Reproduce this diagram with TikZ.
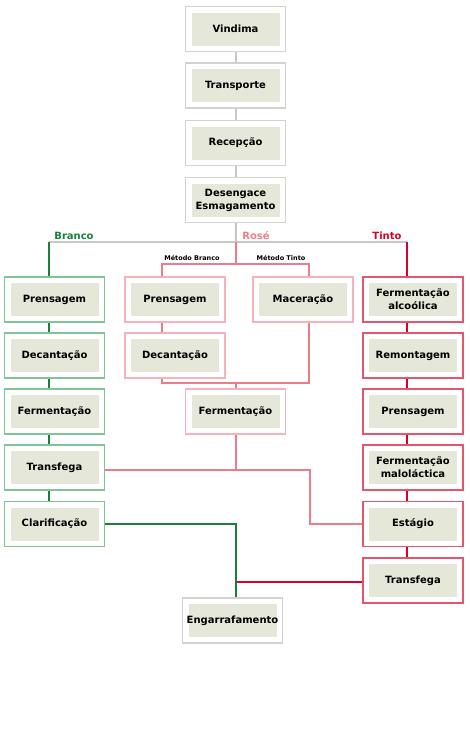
\documentclass[tikz,border=0pt]{standalone}
\usepackage{fontspec}
\setmainfont{DejaVu Sans}
\usetikzlibrary{calc}
\definecolor{boxfill}{HTML}{E5E8D8}
\definecolor{greyline}{HTML}{C8C8C8}
\definecolor{greyframe}{HTML}{D2D2D2}
\definecolor{brancoline}{HTML}{1B7F3A}
\definecolor{brancoframe}{HTML}{80C396}
\definecolor{roseline}{HTML}{EC7C8C}
\definecolor{roseframe}{HTML}{F5B3BD}
\definecolor{tintoline}{HTML}{D9002B}
\definecolor{tintoframe}{HTML}{E4566E}

\begin{document}
\begin{tikzpicture}[x=1pt,y=-1pt,
  etapa/.style={draw=#1,line width=1.2pt,fill=white,minimum width=100pt,minimum height=45pt,
    inner sep=0pt,align=center,font=\bfseries\fontsize{10}{13}\selectfont,
    path picture={\fill[boxfill] ($(path picture bounding box.south west)+(6pt,6pt)$)
      rectangle ($(path picture bounding box.north east)+(-6pt,-6pt)$);}},
  ligacao/.style={draw=#1,line width=2pt},
  ramo/.style={font=\bfseries\fontsize{10}{12}\selectfont,inner sep=0pt},
  metodo/.style={font=\bfseries\fontsize{6.5}{8}\selectfont,inner sep=0pt}]
\useasboundingbox (0,0) rectangle (470,737);

% tronco comum
\node[etapa=greyframe] (vindima) at (235.5,29) {Vindima};
\node[etapa=greyframe] (transporte) at (235.5,85.5) {Transporte};
\node[etapa=greyframe] (recepcao) at (235.5,143) {Recepção};
\node[etapa=greyframe] (desengace) at (235.5,200) {Desengace\\Esmagamento};

% branco
\node[etapa=brancoframe] (bPrensagem) at (54.5,299.5) {Prensagem};
\node[etapa=brancoframe] (bDecantacao) at (54.5,355.5) {Decantação};
\node[etapa=brancoframe] (bFermentacao) at (54.5,411.5) {Fermentação};
\node[etapa=brancoframe] (bTransfega) at (54.5,467.5) {Transfega};
\node[etapa=brancoframe] (bClarificacao) at (54.5,524) {Clarificação};

% rose
\node[etapa=roseframe] (rPrensagem) at (175,299.5) {Prensagem};
\node[etapa=roseframe] (rMaceracao) at (303,299.5) {Maceração};
\node[etapa=roseframe] (rDecantacao) at (175,355.5) {Decantação};
\node[etapa=roseframe] (rFermentacao) at (235.5,411.5) {Fermentação};

% tinto
\node[etapa=tintoframe] (tFermentacao) at (413,299.5) {Fermentação\\alcoólica};
\node[etapa=tintoframe] (tRemontagem) at (413,355.5) {Remontagem};
\node[etapa=tintoframe] (tPrensagem) at (413,411.5) {Prensagem};
\node[etapa=tintoframe] (tMalolactica) at (413,467.5) {Fermentação\\maloláctica};
\node[etapa=tintoframe] (tEstagio) at (413,524) {Estágio};
\node[etapa=tintoframe] (tTransfega) at (413,580.5) {Transfega};

\node[etapa=greyframe] (engarrafamento) at (232.5,620.5) {Engarrafamento};

\coordinate (split) at (236,242);
\coordinate (brancoTop) at (49,242);
\coordinate (tintoTop) at (407,242);
\coordinate (metodo) at (236,264);
\coordinate (mBranco) at (162,264);
\coordinate (mTinto) at (309,264);
\coordinate (rJunta) at (236,383);
\coordinate (rVolta) at (310,470);
\coordinate (eJunta) at (236,582);

\node[ramo,text=brancoline] (lBranco) at (74,236) {Branco};
\node[ramo,text=roseline] (lRose) at (256,236) {Rosé};
\node[ramo,text=tintoline] (lTinto) at (387,236) {Tinto};
\node[metodo] (lMBranco) at (192,258) {Método Branco};
\node[metodo] (lMTinto) at (281,258) {Método Tinto};

% ligacoes
\foreach \a/\b in {vindima/transporte,transporte/recepcao,recepcao/desengace}
	\draw[ligacao=greyline] (\a) -- (\b);
\draw[ligacao=greyline] (desengace) -- (split);
\draw[ligacao=greyline] (brancoTop) -- (tintoTop);

\draw[ligacao=brancoline] (brancoTop) -- (brancoTop |- bPrensagem.north);
\foreach \a/\b in {bPrensagem/bDecantacao,bDecantacao/bFermentacao,bFermentacao/bTransfega,bTransfega/bClarificacao}
	\draw[ligacao=brancoline] (\a.south -| brancoTop) -- (\b.north -| brancoTop);

\draw[ligacao=tintoline] (tintoTop) -- (tintoTop |- tFermentacao.north);
\foreach \a/\b in {tFermentacao/tRemontagem,tRemontagem/tPrensagem,tPrensagem/tMalolactica,tMalolactica/tEstagio,tEstagio/tTransfega}
	\draw[ligacao=tintoline] (\a.south -| tintoTop) -- (\b.north -| tintoTop);

\draw[ligacao=roseline] (split) -- (metodo);
\draw[ligacao=roseline] (mBranco |- rPrensagem.north) -- (mBranco) -- (mTinto) -- (mTinto |- rMaceracao.north);
\draw[ligacao=roseline] (rPrensagem.south -| mBranco) -- (rDecantacao.north -| mBranco);
\draw[ligacao=roseline] (rDecantacao.south -| mBranco) -- (mBranco |- rJunta) -- (mTinto |- rJunta) -- (rMaceracao.south -| mTinto);
\draw[ligacao=roseline] (rJunta) -- (rFermentacao.north -| rJunta);
\draw[ligacao=roseline] (rFermentacao.south -| rJunta) -- (rJunta |- rVolta);
\draw[ligacao=roseline] (bTransfega.east |- rVolta) -- (rVolta) -- (rVolta |- tEstagio.west) -- (tEstagio.west);

\draw[ligacao=tintoline] (tTransfega.west |- eJunta) -- (eJunta);
\draw[ligacao=brancoline] (bClarificacao.east) -- (bClarificacao.east -| eJunta) -- (eJunta |- engarrafamento.north);
\end{tikzpicture}
\end{document}
